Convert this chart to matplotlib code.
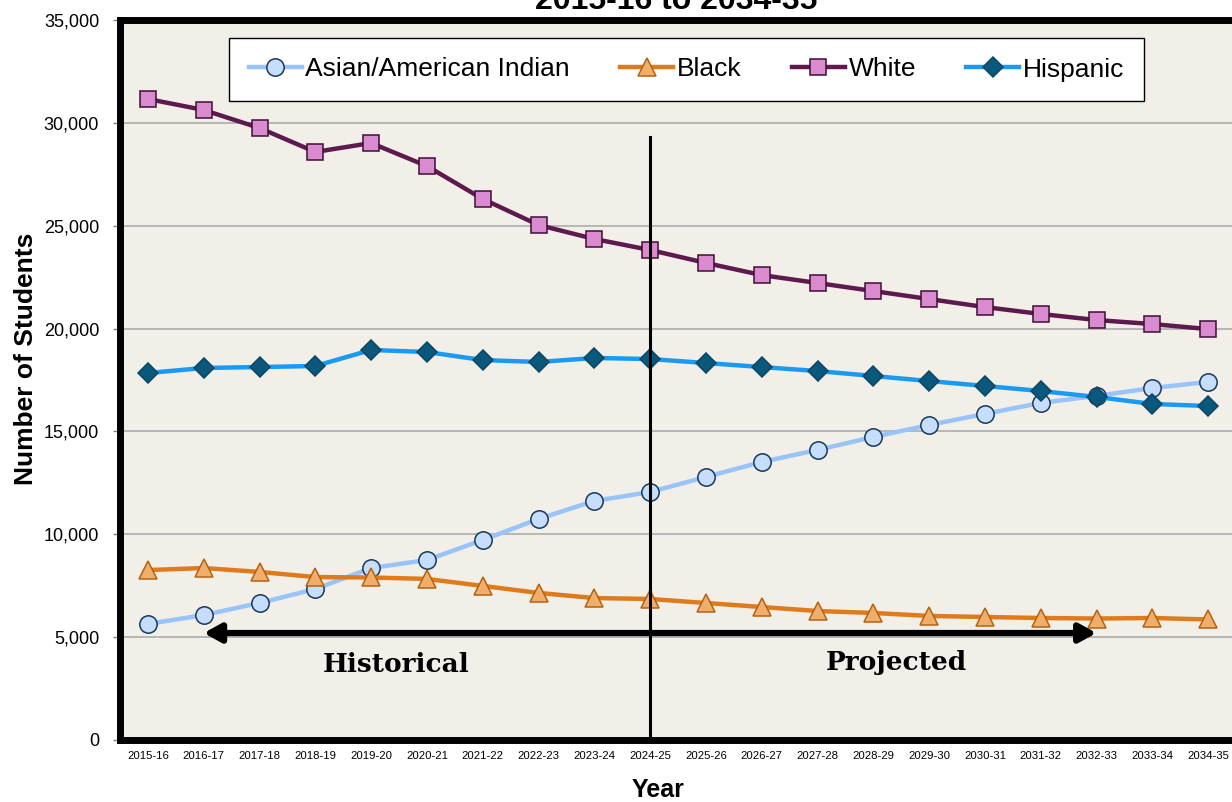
import matplotlib
matplotlib.use("Agg")
import matplotlib.pyplot as plt
from matplotlib.ticker import FuncFormatter, MultipleLocator

years = ["2015-16", "2016-17", "2017-18", "2018-19", "2019-20", "2020-21", "2021-22",
         "2022-23", "2023-24", "2024-25", "2025-26", "2026-27", "2027-28", "2028-29",
         "2029-30", "2030-31", "2031-32", "2032-33", "2033-34", "2034-35"]

asian = [5640, 6075, 6660, 7340, 8360, 8750, 9720, 10745, 11620, 12055,
         12785, 13515, 14100, 14730, 15315, 15850, 16385, 16725, 17110, 17405]
black = [8260, 8360, 8170, 7920, 7900, 7830, 7490, 7150, 6900, 6855,
         6660, 6465, 6270, 6175, 6030, 5980, 5930, 5905, 5930, 5860]
white = [31160, 30625, 29750, 28585, 29020, 27900, 26300, 25035, 24355, 23820,
         23190, 22600, 22215, 21825, 21435, 21045, 20710, 20415, 20220, 19975]
hispanic = [17840, 18085, 18130, 18180, 18960, 18860, 18470, 18375, 18570, 18520,
            18325, 18130, 17935, 17695, 17450, 17210, 16965, 16675, 16335, 16235]

first_projected = "2024-25"

W, H = 1232, 802
fig = plt.figure(figsize=(W / 100, H / 100), dpi=100)
fig.patch.set_facecolor("white")

# plot area, pixel box converted to figure fractions
left, right, top, bottom = 120, 1236, 20, 740
ax = fig.add_axes([left / W, 1 - bottom / H, (right - left) / W, (bottom - top) / H])
ax.set_facecolor("#F2EFE9")

x = list(range(len(years)))

series = [
    ("Asian/American Indian", asian, "o", 12.5, "#99C4FA", "#C6DEFB", "#16385C"),
    ("Black", black, "^", 13, "#E07B1B", "#F0AE6C", "#B5620F"),
    ("White", white, "s", 12, "#5E1A4E", "#DA8ACF", "#3E0F33"),
    ("Hispanic", hispanic, "D", 10, "#1A9AF2", "#0B587D", "#0A4866"),
]
for label, vals, mk, ms, lc, fc, ec in series:
    ax.plot(x, vals, color=lc, lw=3.2, marker=mk, markersize=ms,
            markerfacecolor=fc, markeredgecolor=ec, markeredgewidth=1.1,
            label=label, zorder=3)

ax.set_xlim(-0.5, len(years) - 0.5)
ax.set_ylim(0, 35000)
ax.yaxis.set_major_locator(MultipleLocator(5000))
ax.yaxis.set_major_formatter(FuncFormatter(lambda v, p: f"{int(v):,}"))
ax.set_xticks(x)
ax.set_xticklabels(years, fontsize=8.2, fontfamily="Liberation Sans")
ax.tick_params(axis="x", length=0, pad=8)
ax.tick_params(axis="y", length=5, width=1, color="#808080", pad=10, labelsize=13)
for t in ax.get_yticklabels():
    t.set_fontfamily("Liberation Sans")

ax.grid(axis="y", color="#A6A6A6", lw=1.1, zorder=0)
ax.set_axisbelow(True)
for s in ax.spines.values():
    s.set_linewidth(5)
    s.set_color("black")

# split between historical and projected years
xv = years.index(first_projected)
ax.plot([xv, xv], [0, 29300], color="black", lw=2.2, zorder=5)
ax.annotate("", xy=(1, 5200), xytext=(17, 5200),
            arrowprops=dict(arrowstyle="<|-|>,head_length=1.0,head_width=0.55",
                            color="black", lw=4.5, shrinkA=0, shrinkB=0), zorder=6)
ax.text(4.44, 3650, "Historical", ha="center", va="center", fontsize=19,
        fontweight="bold", fontfamily="DejaVu Serif", zorder=6)
ax.text(13.42, 3750, "Projected", ha="center", va="center", fontsize=19,
        fontweight="bold", fontfamily="DejaVu Serif", zorder=6)

leg = ax.legend(loc="center", bbox_to_anchor=(686.5 / W, 1 - 69.5 / H),
                bbox_transform=fig.transFigure, ncol=4, frameon=True,
                fancybox=False, edgecolor="black", framealpha=1,
                prop={"family": "Liberation Sans", "size": 19},
                handlelength=2.0, handletextpad=0.15, columnspacing=1.9,
                borderpad=0.75, borderaxespad=0)
leg.get_frame().set_linewidth(1.0)
leg.set_zorder(10)

fig.text(658 / W, 1 - 790 / H, "Year", ha="center", va="center", fontsize=18,
         fontweight="bold", fontfamily="Liberation Sans")
fig.text(26 / W, 1 - 359 / H, "Number of Students", ha="center", va="center",
         rotation=90, fontsize=19, fontweight="bold", fontfamily="Liberation Sans")
fig.text(676 / W, 1 - 9 / H, "2015-16 to 2034-35", ha="center", va="baseline",
         fontsize=23, fontweight="bold", fontfamily="Liberation Sans")

fig.savefig("out.png", dpi=100)
